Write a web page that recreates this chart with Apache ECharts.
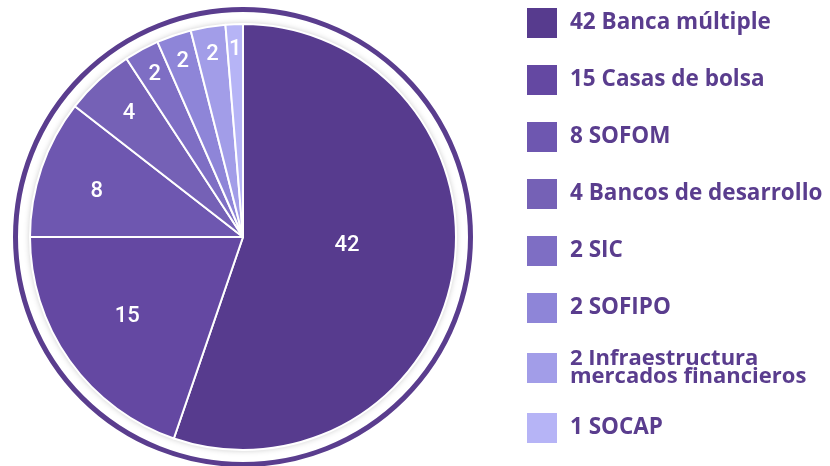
<!DOCTYPE html>
<html>
<head>
<meta charset="utf-8">
<script src="https://cdn.jsdelivr.net/npm/echarts@6/dist/echarts.min.js"></script>
<style>
  html, body { margin: 0; padding: 0; background: #fff; }
  #main { width: 830px; height: 466px; }
</style>
</head>
<body>
<div id="main"></div>
<script>
// datos
const categories = ['Banca múltiple', 'Casas de bolsa', 'SOFOM', 'Bancos de desarrollo', 'SIC', 'SOFIPO', 'Infraestructura\nmercados financieros', 'SOCAP'];
const values = [42, 15, 8, 4, 2, 2, 2, 1];
const colors = ['#573b8e', '#6448a2', '#6e57b0', '#7561b6', '#7e6ec4', '#8e85d8', '#a29de8', '#b6b4f6'];
// posicion de cada etiqueta: fraccion del radio y giro (grados) respecto al centro del sector
const labelRadius = [0.49, 0.66, 0.72, 0.79, 0.87, 0.87, 0.87, 0.88];
const labelShift = [-5, 1, -1.5, 0, 0, 0, 0, 0];

const cx = 243, cy = 237, pieR = 213;
const textColor = '#5a3d8e';

const total = values.reduce((a, b) => a + b, 0);
let acc = 0;
const midAngles = values.map((v, i) => {
  const m = (acc + v / 2) / total * 2 * Math.PI + labelShift[i] * Math.PI / 180;
  acc += v;
  return m;
});

const chart = echarts.init(document.getElementById('main'));

chart.setOption({
  animation: false,
  graphic: [
    {
      type: 'circle',
      shape: { cx: cx, cy: cy, r: 227.5 },
      style: { fill: 'none', stroke: textColor, lineWidth: 5 },
      silent: true
    },
    {
      type: 'circle',
      shape: { cx: cx, cy: cy, r: pieR },
      style: { fill: '#fff', shadowBlur: 6, shadowColor: 'rgba(0,0,0,0.25)' },
      silent: true
    }
  ],
  legend: {
    orient: 'vertical',
    left: 525,
    top: 6,
    padding: 0,
    itemWidth: 32,
    itemHeight: 32,
    itemGap: 23,
    icon: 'rect',
    selectedMode: false,
    formatter: name => values[categories.indexOf(name)] + ' ' + name,
    textStyle: {
      color: textColor,
      fontFamily: 'Open Sans',
      fontWeight: 'bold',
      fontSize: 22.5,
      padding: [0, 0, 0, 7]
    },
    data: categories.map(c => c.indexOf('\n') >= 0
      ? { name: c, textStyle: { fontSize: 22, lineHeight: 18 } }
      : { name: c })
  },
  series: [
    {
      type: 'pie',
      center: [cx, cy],
      radius: [0, pieR],
      startAngle: 90,
      clockwise: true,
      silent: true,
      itemStyle: { borderColor: '#fff', borderWidth: 2 },
      label: {
        show: true,
        position: 'inside',
        formatter: '{c}',
        color: '#fff',
        fontFamily: 'Roboto',
        fontWeight: 500,
        fontSize: 22
      },
      labelLine: { show: false },
      labelLayout: params => {
        const i = params.dataIndex;
        const r = pieR * labelRadius[i];
        return {
          x: cx + r * Math.sin(midAngles[i]),
          y: cy - r * Math.cos(midAngles[i]),
          align: 'center',
          verticalAlign: 'middle'
        };
      },
      data: categories.map((c, i) => ({ name: c, value: values[i], itemStyle: { color: colors[i] } }))
    }
  ]
});
</script>
</body>
</html>
